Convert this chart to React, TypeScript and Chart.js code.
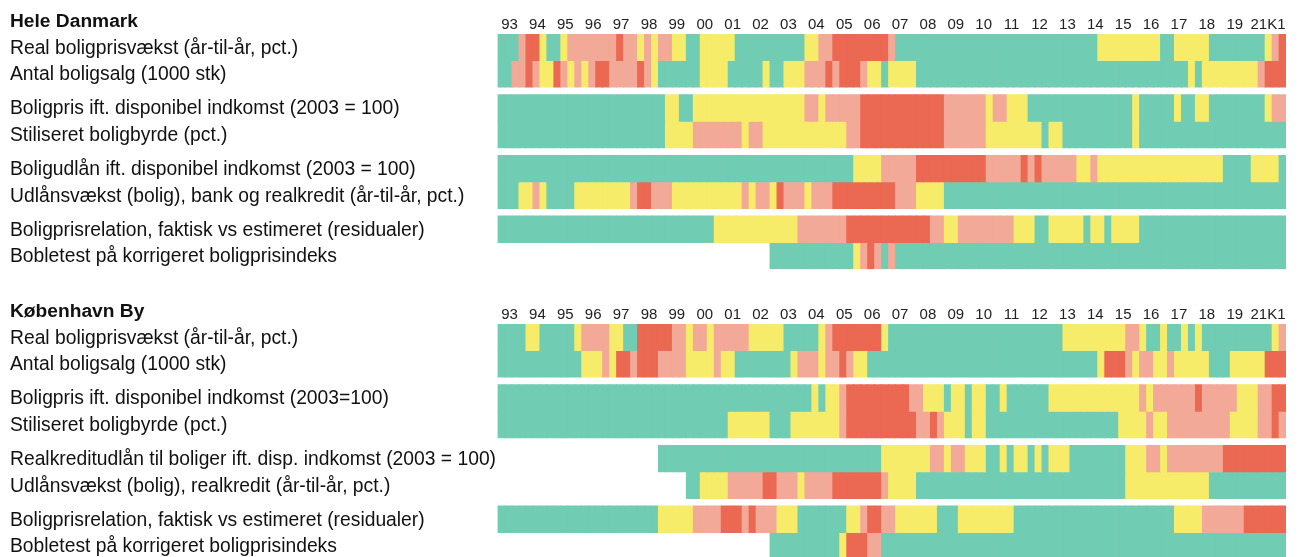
import React, { useEffect, useRef } from 'react';
import { Chart, registerables } from 'chart.js';

Chart.register(...registerables);

// ---------- data ----------
const N_QUARTERS = 113; // 1993K1 .. 2021K1

const YEAR_LABELS = [
  '93', '94', '95', '96', '97', '98', '99', '00', '01', '02', '03', '04', '05', '06',
  '07', '08', '09', '10', '11', '12', '13', '14', '15', '16', '17', '18', '19', '21K1',
];

// Colour codes per quarter, run-length written: code + number of quarters.
// G = grøn, Y = gul, L = lys rød, R = rød, _ = ingen data
const DK_TITLE = 'Hele Danmark';
const DK_LABELS = [
  'Real boligprisvækst (år-til-år, pct.)',
  'Antal boligsalg (1000 stk)',
  'Boligpris ift. disponibel indkomst (2003 = 100)',
  'Stiliseret boligbyrde (pct.)',
  'Boligudlån ift. disponibel indkomst (2003 = 100)',
  'Udlånsvækst (bolig), bank og realkredit (år-til-år, pct.)',
  'Boligprisrelation, faktisk vs estimeret (residualer)',
  'Bobletest på korrigeret boligprisindeks',
];
const DK_ROWS = [
  'G3 L1 R2 Y1 G2 Y1 L7 R1 L2 Y1 L1 Y1 L2 Y2 G2 Y5 G10 Y2 L2 R8 L1 G29 Y9 G2 Y5 G8 Y1 L1 R1',
  'G2 L2 R1 L1 Y2 R1 L1 Y1 L1 Y1 L1 R2 L4 R1 L1 Y1 G6 Y4 G5 Y1 G2 Y3 L3 R1 L1 R3 L1 Y2 G1 Y4 G39 Y1 G1 Y8 L1 R3',
  'G24 Y2 G2 Y16 L2 Y1 L5 R12 L6 Y1 L2 Y3 G15 Y1 G5 Y1 G2 Y2 G8 Y1 L2',
  'G24 Y4 L7 Y1 L2 Y12 L2 R12 L6 Y8 G1 Y2 G10 Y1 G21',
  'G51 Y4 L5 R10 L5 R1 L1 R1 L5 Y2 L1 Y18 G4 Y4 G1',
  'G3 Y2 L1 Y1 G4 Y8 L1 R2 L3 Y10 L1 Y1 L2 Y1 R1 L3 Y1 L3 R9 L3 Y4 G49',
  'G31 Y12 L7 R12 L2 Y2 L8 Y3 G2 Y5 G1 Y2 G1 Y4 G21',
  '_39 G12 Y1 L1 R1 L1 G1 L1 G56',
];

const KBH_TITLE = 'København By';
const KBH_LABELS = [
  'Real boligprisvækst (år-til-år, pct.)',
  'Antal boligsalg (1000 stk)',
  'Boligpris ift. disponibel indkomst (2003=100)',
  'Stiliseret boligbyrde (pct.)',
  'Realkreditudlån til boliger ift. disp. indkomst (2003 = 100)',
  'Udlånsvækst (bolig), realkredit (år-til-år, pct.)',
  'Boligprisrelation, faktisk vs estimeret (residualer)',
  'Bobletest på korrigeret boligprisindeks',
];
const KBH_ROWS = [
  'G4 Y2 G5 Y1 L4 Y2 G2 R5 L2 Y1 L2 Y1 L5 Y5 G5 Y1 L1 R7 Y1 G25 Y9 L2 Y1 G2 Y1 G2 Y1 G1 Y1 G10 Y1 L1',
  'G12 Y3 L1 Y1 R2 L1 R3 L4 Y4 L1 Y2 G8 Y1 L3 Y1 L2 R1 L1 Y2 G33 Y1 R3 L1 Y1 L2 Y2 L1 Y5 G3 Y5 R3',
  'G45 Y1 G1 Y2 L1 R9 L2 Y3 G1 Y2 G1 Y2 G2 Y1 G6 Y13 L1 Y1 L6 R1 L5 Y3 L2 R2',
  'G33 Y6 G3 Y7 L1 R10 L2 R1 L1 Y3 G1 Y2 G19 Y4 L1 Y2 L9 Y4 L2 R1 L1',
  '_23 G32 Y7 L2 Y1 L2 Y3 G2 Y1 G1 Y2 G1 Y1 G1 Y3 G8 Y3 L2 Y1 L8 R9',
  '_27 G2 Y4 L5 R2 L3 Y1 L4 R7 L1 Y4 G30 Y12 G11',
  'G23 Y5 L4 R3 L1 R1 L3 Y3 G7 Y2 L1 R2 L2 Y6 G3 Y8 G23 Y4 L6 R6',
  '_39 G10 Y1 R3 L2 G58',
];

// ---------- styles / layout ----------
const COLORS: Record<string, string> = {
  G: '#70CDB4',
  Y: '#F6EC6A',
  L: '#F3A998',
  R: '#EB6852',
};
const FONT = "'Liberation Sans', Arial, sans-serif";
const LABEL_SIZE = 19.3;
const TITLE_SIZE = 19.2;
const YEAR_SIZE = 15;

const W = 1301;
const TEXT_LEFT = 10;
const PLOT_LEFT = 498;
const PLOT_RIGHT = 1286;
const AREA_TOP = 34;
const ROW_GAP = 0.28; // gap between row pairs, in row units
const N_ROWS = 8;
const TOTAL_UNITS = (N_ROWS / 2) * 2 + (N_ROWS / 2 - 1) * ROW_GAP;
const AREA_BOTTOM = 269.2;
const BOX_H = 282;
const TITLE_LH = 1.3;
const YEAR_LH = 1.24;

function expand(rle: string): (string | null)[] {
  const out: (string | null)[] = [];
  for (const tok of rle.trim().split(/\s+/)) {
    const c = tok[0];
    const n = parseInt(tok.slice(1), 10);
    for (let k = 0; k < n; k++) out.push(c === '_' ? null : c);
  }
  return out;
}

const rowTop = (r: number) => Math.floor(r / 2) * (2 + ROW_GAP) + (r % 2);

function Panel({ top, title, labels, rows }: { top: number; title: string; labels: string[]; rows: string[] }) {
  const ref = useRef<HTMLCanvasElement | null>(null);

  useEffect(() => {
    const canvas = ref.current;
    if (!canvas) return;
    const qpx = (PLOT_RIGHT - PLOT_LEFT) / N_QUARTERS;
    const meas = document.createElement('canvas').getContext('2d')!;
    meas.font = `bold ${TITLE_SIZE}px ${FONT}`;
    const titleW = meas.measureText(title).width;
    const xMin = (TEXT_LEFT - PLOT_LEFT) / qpx;
    const titleVal = (TEXT_LEFT + titleW / 2 - PLOT_LEFT) / qpx;
    meas.font = `${YEAR_SIZE}px ${FONT}`;
    const lastW = meas.measureText(YEAR_LABELS[YEAR_LABELS.length - 1]).width;

    const xTicks = [
      titleVal,
      ...YEAR_LABELS.map((l, i) =>
        i === YEAR_LABELS.length - 1 ? N_QUARTERS - (lastW / 2 + 0.5) / qpx : i * 4 + 1.65
      ),
    ];
    const xLabels = [title, ...YEAR_LABELS];
    const yTicks = labels.map((_, r) => rowTop(r) + 0.54);

    const datasets = rows.map((rle, r) => {
      const codes = expand(rle);
      const data: any[] = [];
      codes.forEach((c, i) => {
        if (c) data.push({ x: i + 0.5, y: [rowTop(r), rowTop(r) + 1], c });
      });
      return {
        label: labels[r],
        data,
        backgroundColor: (ctx: any) => (ctx.raw && ctx.raw.c ? COLORS[ctx.raw.c] : '#ccc'),
        borderWidth: 0,
        grouped: false,
        barPercentage: 1,
        categoryPercentage: 1,
        inflateAmount: 0.4,
      };
    });

    const titleLineH = TITLE_SIZE * TITLE_LH;

    const chart = new Chart(canvas, {
      type: 'bar',
      data: { datasets } as any,
      options: {
        animation: false,
        responsive: true,
        maintainAspectRatio: false,
        events: [],
        layout: {
          padding: {
            left: TEXT_LEFT,
            right: W - PLOT_RIGHT,
            top: AREA_TOP - titleLineH,
            bottom: BOX_H - AREA_BOTTOM,
          },
        },
        plugins: {
          legend: { display: false },
          tooltip: { enabled: false },
          title: { display: false },
        },
        scales: {
          x: {
            type: 'linear',
            position: 'top',
            min: xMin,
            max: N_QUARTERS,
            offset: false,
            bounds: 'data',
            grid: { display: false, drawTicks: false },
            border: { display: false },
            afterBuildTicks: (s: any) => {
              s.ticks = xTicks.map((v) => ({ value: v }));
            },
            ticks: {
              autoSkip: false,
              maxRotation: 0,
              minRotation: 0,
              padding: 0,
              color: (ctx: any) => (ctx.index === 0 ? '#111' : '#222'),
              callback: (_v: any, i: number) => xLabels[i],
              font: (ctx: any) =>
                ctx.index === 0
                  ? { family: FONT, size: TITLE_SIZE, weight: 'bold', lineHeight: TITLE_LH }
                  : { family: FONT, size: YEAR_SIZE, lineHeight: YEAR_LH },
            },
          },
          y: {
            type: 'linear',
            reverse: true,
            min: 0,
            max: TOTAL_UNITS,
            bounds: 'data',
            grid: { display: false, drawTicks: false },
            border: { display: false },
            afterBuildTicks: (s: any) => {
              s.ticks = yTicks.map((v) => ({ value: v }));
            },
            ticks: {
              mirror: true,
              padding: 0,
              autoSkip: false,
              color: '#111',
              font: { family: FONT, size: LABEL_SIZE },
              callback: (_v: any, i: number) => labels[i],
            },
          },
        },
      } as any,
    });
    return () => chart.destroy();
  }, [title, labels, rows]);

  return (
    <div style={{ position: 'absolute', left: 0, top, width: W, height: BOX_H }}>
      <canvas ref={ref} />
    </div>
  );
}

export default function App() {
  return (
    <div
      style={{
        position: 'fixed',
        left: 0,
        top: 0,
        width: W,
        height: 557,
        overflow: 'hidden',
        background: '#fff',
      }}
    >
      <Panel top={0} title={DK_TITLE} labels={DK_LABELS} rows={DK_ROWS} />
      <Panel top={290} title={KBH_TITLE} labels={KBH_LABELS} rows={KBH_ROWS} />
    </div>
  );
}
